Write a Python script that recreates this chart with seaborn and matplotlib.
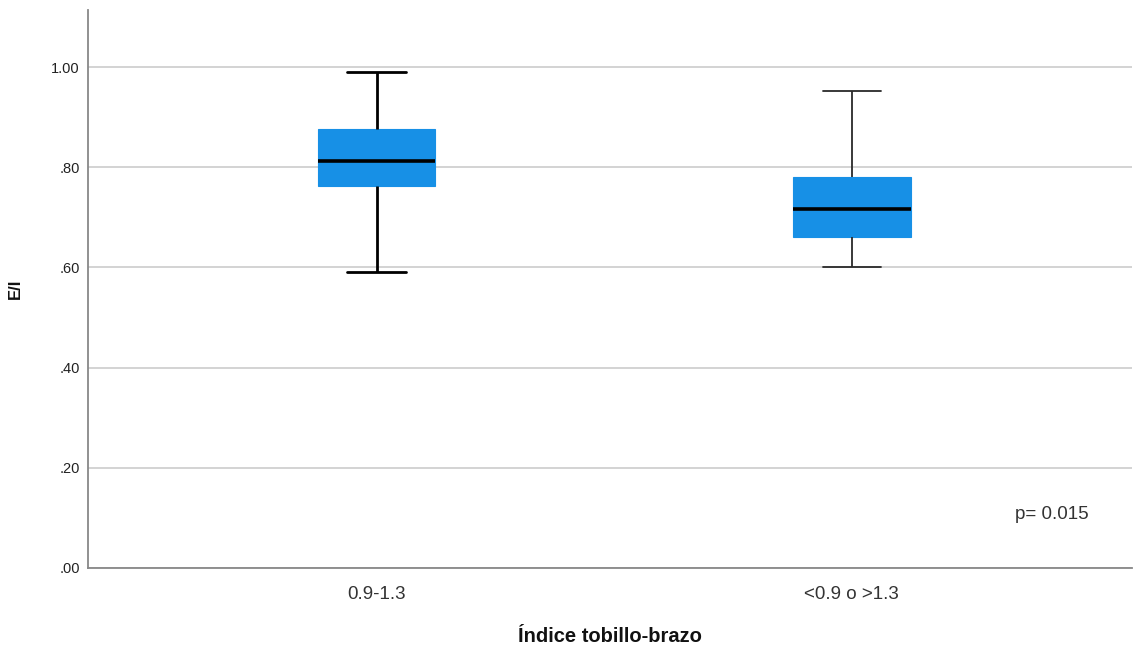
import matplotlib
matplotlib.use("Agg")
import matplotlib.pyplot as plt
import seaborn as sns
import pandas as pd

# Five-number summaries (min, Q1, median, Q3, max)
categories = ["0.9-1.3", "<0.9 o >1.3"]
group1_values = [0.59, 0.762, 0.812, 0.876, 0.99]
group2_values = [0.601, 0.661, 0.717, 0.780, 0.952]
y_ticks = [0.0, 0.2, 0.4, 0.6, 0.8, 1.0]
y_tick_labels = [".00", ".20", ".40", ".60", ".80", "1.00"]
p_text = "p= 0.015"

df = pd.DataFrame({
    "grupo": [categories[0]] * len(group1_values) + [categories[1]] * len(group2_values),
    "ei": group1_values + group2_values,
})

sns.set_theme(style="white")
plt.rcParams["font.family"] = ["Liberation Sans", "DejaVu Sans"]

fig = plt.figure(figsize=(11.35, 6.45), dpi=100)
ax = fig.add_axes([0.0775, 0.1194, 0.92, 0.8651])

box_color = "#1790e6"
sns.boxplot(data=df, x="grupo", y="ei", order=categories, ax=ax, width=0.247,
            whis=3.0, color=box_color, saturation=1, linecolor="black", linewidth=2,
            boxprops=dict(facecolor=box_color, edgecolor=box_color, linewidth=0.8),
            medianprops=dict(color="black", linewidth=2.6),
            capprops=dict(linewidth=2), whiskerprops=dict(linewidth=2),
            showfliers=False)

# second box has thinner, dark grey whiskers/caps
for ln in ax.lines:
    xd = ln.get_xdata()
    if len(xd) and sum(xd) / len(xd) > 0.5:
        if ln.get_linewidth() < 2.5:
            ln.set_linewidth(1.3)
            ln.set_color("#2a2a2a")

ax.set_xlim(-0.608, 1.59)
ax.set_ylim(0, 1.114)
ax.set_yticks(y_ticks)
ax.set_yticklabels(y_tick_labels)
ax.grid(axis="y", color="#d0d0d0", linewidth=1.3)
ax.set_axisbelow(True)

for s in ["top", "right"]:
    ax.spines[s].set_visible(False)
for s in ["left", "bottom"]:
    ax.spines[s].set_color("#888888")
    ax.spines[s].set_linewidth(1.3)

ax.tick_params(axis="y", length=0, pad=6, labelsize=10.5, labelcolor="#222222")
ax.tick_params(axis="x", length=0, pad=13, labelsize=13.5, labelcolor="#333333")

ax.set_xlabel("Índice tobillo-brazo", fontsize=14.5, fontweight="bold", labelpad=17, color="#111111")
ax.set_ylabel("E/I", fontsize=12, fontweight="bold", labelpad=20, color="#111111")

ax.text(1.42, 0.106, p_text, fontsize=13.5, color="#333333", ha="center", va="center")

fig.savefig("out.png", dpi=100)
